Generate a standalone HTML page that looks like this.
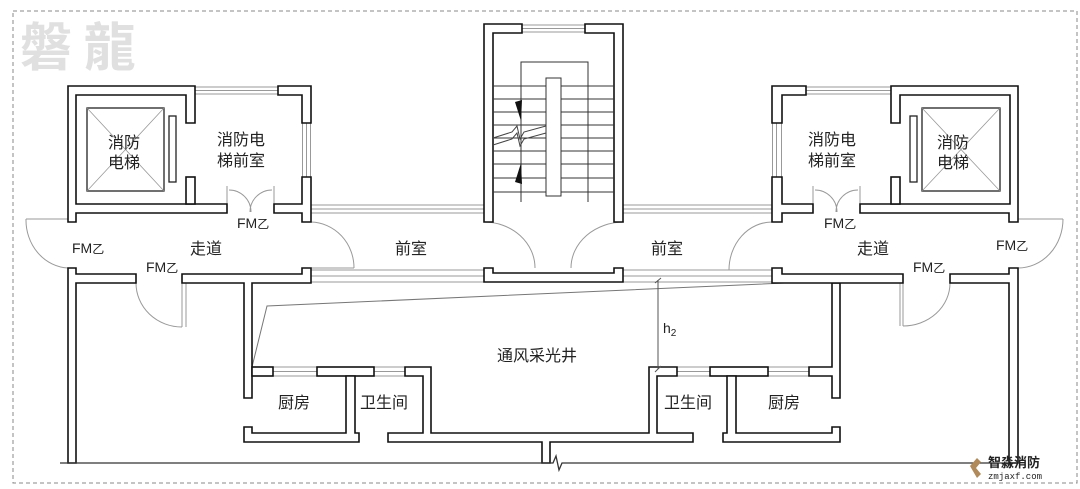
<!DOCTYPE html>
<html><head><meta charset="utf-8"><style>
html,body{margin:0;padding:0;background:#fff;}
svg{display:block;}
text{font-family:"Liberation Sans","Noto Sans CJK SC",sans-serif;fill:#222;}
</style></head><body>
<svg width="1080" height="489" viewBox="0 0 1080 489" xmlns="http://www.w3.org/2000/svg">
<rect x="13" y="11" width="1064" height="472" fill="none" stroke="#888" stroke-width="1" stroke-dasharray="4,3"/>
<text x="20" y="66" font-size="52" font-weight="bold" fill="#e2e2e2" style="fill:#e0e0e0;font-family:'Noto Sans CJK TC','Noto Sans CJK SC',sans-serif">磐 龍</text>

<!-- thin window / glass lines -->
<g stroke="#999" stroke-width="1" fill="none">
<line x1="195" y1="87" x2="278" y2="87"/><line x1="195" y1="90.5" x2="278" y2="90.5"/><line x1="195" y1="94" x2="278" y2="94"/>
<line x1="806" y1="87" x2="891" y2="87"/><line x1="806" y1="90.5" x2="891" y2="90.5"/><line x1="806" y1="94" x2="891" y2="94"/>
<line x1="522" y1="25" x2="585" y2="25"/><line x1="522" y1="28.5" x2="585" y2="28.5"/><line x1="522" y1="32" x2="585" y2="32"/>
<line x1="302.5" y1="123" x2="302.5" y2="177"/><line x1="306.5" y1="123" x2="306.5" y2="177"/><line x1="310.5" y1="123" x2="310.5" y2="177"/>
<line x1="772.5" y1="123" x2="772.5" y2="177"/><line x1="776.5" y1="123" x2="776.5" y2="177"/><line x1="781.5" y1="123" x2="781.5" y2="177"/>
<line x1="311" y1="205" x2="484" y2="205"/><line x1="311" y1="209" x2="484" y2="209"/><line x1="311" y1="213" x2="484" y2="213"/>
<line x1="623" y1="205" x2="772" y2="205"/><line x1="623" y1="209" x2="772" y2="209"/><line x1="623" y1="213" x2="772" y2="213"/>
<line x1="311" y1="270" x2="484" y2="270"/><line x1="311" y1="276" x2="484" y2="276"/><line x1="311" y1="282" x2="484" y2="282"/>
<line x1="623" y1="270" x2="772" y2="270"/><line x1="623" y1="276" x2="772" y2="276"/><line x1="623" y1="282" x2="772" y2="282"/>
<line x1="26" y1="219" x2="68" y2="219"/><line x1="1018" y1="219" x2="1063" y2="219"/>
<line x1="273" y1="367" x2="317" y2="367"/><line x1="273" y1="371.5" x2="317" y2="371.5"/><line x1="273" y1="376" x2="317" y2="376"/>
<line x1="374" y1="367" x2="405" y2="367"/><line x1="374" y1="371.5" x2="405" y2="371.5"/><line x1="374" y1="376" x2="405" y2="376"/>
<line x1="677" y1="367" x2="710" y2="367"/><line x1="677" y1="371.5" x2="710" y2="371.5"/><line x1="677" y1="376" x2="710" y2="376"/>
<line x1="768" y1="367" x2="809" y2="367"/><line x1="768" y1="371.5" x2="809" y2="371.5"/><line x1="768" y1="376" x2="809" y2="376"/>
<!-- doors -->
<path d="M227,213V186M229,190A22,22 0 0 1 251,212M274,213V186M272,190A22,22 0 0 0 250,212"/>
<path d="M813,213V186M815,190A22,22 0 0 1 837,212M860,213V186M858,190A22,22 0 0 0 836,212"/>
<path d="M26,219A44,48 0 0 0 68,268"/>
<path d="M136,283A46,44 0 0 0 182,327M182,283V327M186,283V327"/>
<path d="M311,222A44,46 0 0 1 354,268M311,268H354"/>
<path d="M484,222A51,46 0 0 1 535,268"/>
<path d="M624,222A53,46 0 0 0 571,268"/>
<path d="M772,222A43,48 0 0 0 729,270M729,270H772"/>
<path d="M950,283A47,43 0 0 1 903,326M900,283V326M903,283V326"/>
<path d="M1063,219A45,49 0 0 1 1018,268"/>
<!-- light well slant -->
<path d="M252,367L267,306L830,281" stroke="#777"/>
</g>
<!-- elevator cars -->
<g stroke="#222" stroke-width="1.3" fill="none">
<rect x="87" y="108" width="77" height="83"/><path d="M87,108L164,191M164,108L87,191" stroke="#999" stroke-width="0.8"/>
<rect x="169" y="116" width="7" height="66"/>
<rect x="922" y="108" width="78" height="83"/><path d="M922,108L1000,191M1000,108L922,191" stroke="#999" stroke-width="0.8"/>
<rect x="910" y="116" width="7" height="66"/>
</g>
<!-- walls -->
<g stroke="#111" stroke-width="1.6" fill="#fff" stroke-linejoin="miter">
<polygon points="68,86 195,86 195,123 186,123 186,95 76,95 76,204 227,204 227,213 76,213 76,222 68,222"/>
<rect x="186" y="177" width="9" height="27"/>
<polygon points="278,86 311,86 311,123 302,123 302,95 278,95"/>
<polygon points="302,177 311,177 311,222 302,222 302,213 274,213 274,204 302,204"/>
<polygon points="68,268 76,268 76,274 136,274 136,283 76,283 76,463 68,463"/>
<polygon points="182,274 302,274 302,268 311,268 311,283 252,283 252,398 244,398 244,283 182,283"/>
<rect x="252" y="367" width="21" height="9"/>
<rect x="317" y="367" width="57" height="9"/>
<polygon points="244,427 252,427 252,433 346,433 346,376 355,376 355,433 359,433 359,442 244,442"/>
<polygon points="405,367 431,367 431,433 649,433 649,367 677,367 677,376 657,376 657,433 693,433 693,442 550,442 550,463 542,463 542,442 388,442 388,433 423,433 423,376 405,376"/>
<rect x="710" y="367" width="58" height="9"/>
<polygon points="809,367 832,367 832,283 840,283 840,398 832,398 832,376 809,376"/>
<polygon points="727,376 736,376 736,433 832,433 832,427 840,427 840,442 723,442 723,433 727,433"/>
<polygon points="772,268 782,268 782,274 903,274 903,283 772,283"/>
<polygon points="950,274 1009,274 1009,268 1018,268 1018,463 1009,463 1009,283 950,283"/>
<polygon points="772,86 806,86 806,95 782,95 782,123 772,123"/>
<polygon points="772,177 782,177 782,204 813,204 813,213 782,213 782,222 772,222"/>
<polygon points="891,86 1018,86 1018,222 1009,222 1009,213 860,213 860,204 1010,204 1010,95 900,95 900,123 891,123"/>
<rect x="891" y="177" width="9" height="27"/>
<polygon points="484,24 522,24 522,33 493,33 493,222 484,222"/>
<polygon points="585,24 623,24 623,222 614,222 614,33 585,33"/>
<polygon points="484,268 493,268 493,273 614,273 614,268 623,268 623,282 484,282"/>
</g>
<!-- bottom line with break -->
<path d="M60,463H553L556,456L559,470L562,463H1009" stroke="#333" stroke-width="1.3" fill="none"/>
<!-- stair -->
<g stroke="#333" stroke-width="1" fill="none">
<path d="M521,202V62H588V202"/>
<path d="M493,86H614M493,99H614M493,112H614M493,125H614M493,138H614M493,151H614M493,164H614M493,178H614M493,192H614"/>
<rect x="546" y="78" width="15" height="118" fill="#fff"/>
<path d="M493,138L512,132L517,126L520,139L524,132L546,126M493,145L512,139L517,133L520,146L524,139L546,133" stroke="#444"/>
</g>
<polygon points="515,102 522,100 521,121" fill="#111"/>
<polygon points="521,163 522,184 515,182" fill="#111"/>
<!-- h2 dimension -->
<path d="M658,280V369M655,283L661,278M655,372L661,366" stroke="#555" stroke-width="1" fill="none"/>
<!-- labels -->
<g font-size="16">
<text x="108" y="148">消防</text><text x="108" y="168">电梯</text>
<text x="217" y="145">消防电</text><text x="217" y="166">梯前室</text>
<text x="808" y="145">消防电</text><text x="808" y="166">梯前室</text>
<text x="937" y="148">消防</text><text x="937" y="168">电梯</text>
<text x="190" y="254">走道</text><text x="395" y="254">前室</text>
<text x="651" y="254">前室</text><text x="857" y="254">走道</text>
<text x="497" y="361">通风采光井</text>
<text x="278" y="408">厨房</text><text x="360" y="408">卫生间</text>
<text x="664" y="408">卫生间</text><text x="768" y="408">厨房</text>
</g>
<g font-size="14">
<text x="237" y="228">FM<tspan font-size="12">乙</tspan></text>
<text x="72" y="253">FM<tspan font-size="12">乙</tspan></text>
<text x="146" y="272">FM<tspan font-size="12">乙</tspan></text>
<text x="824" y="228">FM<tspan font-size="12">乙</tspan></text>
<text x="996" y="250">FM<tspan font-size="12">乙</tspan></text>
<text x="913" y="272">FM<tspan font-size="12">乙</tspan></text>
<text x="663" y="333">h<tspan font-size="10" dy="3">2</tspan></text>
</g>
<!-- logo -->
<polygon points="970,466 977,458 981,462 976,468 981,474 977,478" fill="#b08a5a"/>
<text x="988" y="467" font-size="13" font-weight="bold">智淼消防</text>
<text x="988" y="479" font-size="9" font-family="Liberation Mono,monospace" style="font-family:'Liberation Mono',monospace">zmjaxf.com</text>
</svg>
</body></html>
